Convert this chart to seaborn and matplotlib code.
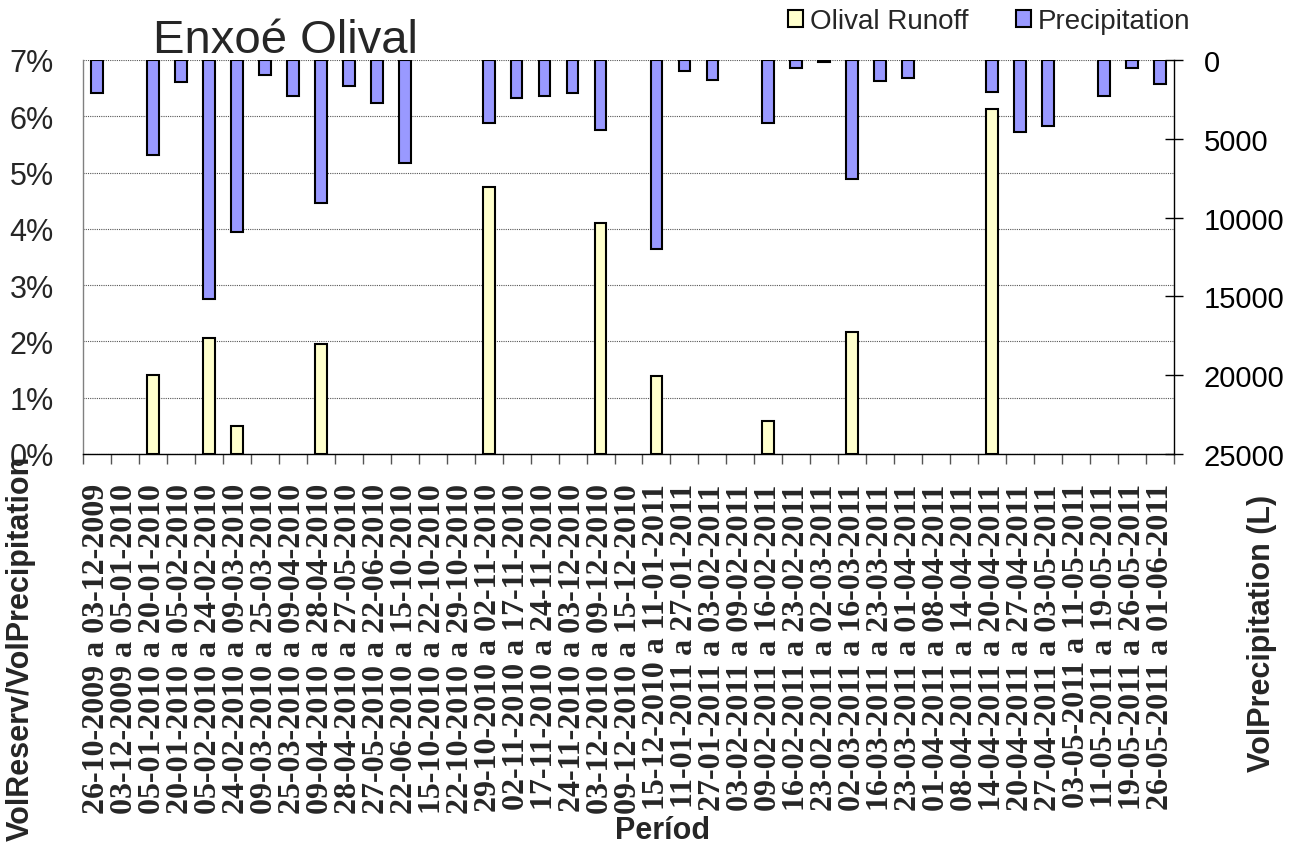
import matplotlib
matplotlib.use("Agg")
import numpy as np
import pandas as pd
import matplotlib.pyplot as plt
import seaborn as sns
from matplotlib.ticker import PercentFormatter, FixedLocator
from matplotlib.patches import Patch

nan = np.nan

periods = [
    "26-10-2009 a 03-12-2009", "03-12-2009 a 05-01-2010", "05-01-2010 a 20-01-2010",
    "20-01-2010 a 05-02-2010", "05-02-2010 a 24-02-2010", "24-02-2010 a 09-03-2010",
    "09-03-2010 a 25-03-2010", "25-03-2010 a 09-04-2010", "09-04-2010 a 28-04-2010",
    "28-04-2010 a 27-05-2010", "27-05-2010 a 22-06-2010", "22-06-2010 a 15-10-2010",
    "15-10-2010 a 22-10-2010", "22-10-2010 a 29-10-2010", "29-10-2010 a 02-11-2010",
    "02-11-2010 a 17-11-2010", "17-11-2010 a 24-11-2010", "24-11-2010 a 03-12-2010",
    "03-12-2010 a 09-12-2010", "09-12-2010 a 15-12-2010", "15-12-2010 a 11-01-2011",
    "11-01-2011 a 27-01-2011", "27-01-2011 a 03-02-2011", "03-02-2011 a 09-02-2011",
    "09-02-2011 a 16-02-2011", "16-02-2011 a 23-02-2011", "23-02-2011 a 02-03-2011",
    "02-03-2011 a 16-03-2011", "16-03-2011 a 23-03-2011", "23-03-2011 a 01-04-2011",
    "01-04-2011 a 08-04-2011", "08-04-2011 a 14-04-2011", "14-04-2011 a 20-04-2011",
    "20-04-2011 a 27-04-2011", "27-04-2011 a 03-05-2011", "03-05-2011 a 11-05-2011",
    "11-05-2011 a 19-05-2011", "19-05-2011 a 26-05-2011", "26-05-2011 a 01-06-2011",
]

# Olival Runoff (VolReserv/VolPrecipitation, fraction)
runoff = [nan, nan, 0.0141, nan, 0.0206, 0.0050, nan, nan, 0.0195, nan,
          nan, nan, nan, nan, 0.0475, nan, nan, nan, 0.0410, nan,
          0.0139, nan, nan, nan, 0.0058, nan, nan, 0.0217, nan, nan,
          nan, nan, 0.0613, nan, nan, nan, nan, nan, nan]

# Precipitation volume (L)
precip = [2100, nan, 6000, 1400, 15150, 10900, 970, 2300, 9100, 1650,
          2700, 6550, nan, nan, 4000, 2430, 2300, 2100, 4450, nan,
          12000, 680, 1250, nan, 4000, 500, 100, 7550, 1330, 1150,
          nan, nan, 2000, 4550, 4170, nan, 2260, 500, 1520]

left_ticks = [0.00, 0.01, 0.02, 0.03, 0.04, 0.05, 0.06, 0.07]
right_ticks = [0, 5000, 10000, 15000, 20000, 25000]

runoff_color = "#FFFFCC"
precip_color = "#9999FF"

sns.set_style("white")
plt.rcParams["font.family"] = ["Liberation Sans", "DejaVu Sans"]

W, H = 1304, 845
fig = plt.figure(figsize=(W / 100, H / 100), dpi=100)
L, R, T, B = 83, 1174, 61, 455
ax = fig.add_axes([L / W, 1 - B / H, (R - L) / W, (B - T) / H])

df_r = pd.DataFrame({"Period": periods, "Runoff": runoff})
df_p = pd.DataFrame({"Period": periods, "Precipitation": precip})

sns.barplot(data=df_r, x="Period", y="Runoff", order=periods, color=runoff_color,
            saturation=1, edgecolor="black", linewidth=1.5, width=0.42,
            errorbar=None, ax=ax)

ax2 = ax.twinx()
sns.barplot(data=df_p, x="Period", y="Precipitation", order=periods, color=precip_color,
            saturation=1, edgecolor="black", linewidth=1.5, width=0.42,
            errorbar=None, ax=ax2)

ax.set_xlim(-0.5, len(periods) - 0.5)
ax.set_ylim(0, 0.07)
ax2.set_ylim(25000, 0)

# left axis
ax.set_yticks(left_ticks)
ax.yaxis.set_major_formatter(PercentFormatter(1.0, decimals=0))
ax.tick_params(axis="y", length=0, pad=21, labelsize=22)
ax.yaxis.grid(True, linestyle=(0, (1, 1)), color="#555555", linewidth=0.8)
ax.xaxis.grid(False)
ax.set_axisbelow(True)

# x axis
ax.set_xticks(range(len(periods)))
ax.set_xticklabels(periods, rotation=90, fontfamily="Liberation Serif",
                   fontweight="bold", fontsize=23)
ax.tick_params(axis="x", which="major", length=0, pad=21)
ax.xaxis.set_minor_locator(FixedLocator(np.arange(-0.5, len(periods), 1.0)))
ax.tick_params(axis="x", which="minor", length=7, width=1, color="#555555",
               direction="out", bottom=True)

# right axis
ax2.set_yticks(right_ticks)
ax2.tick_params(axis="y", direction="inout", length=13, width=1, pad=15,
                labelsize=21, colors="black")

# spines
for s in ["top", "right"]:
    ax.spines[s].set_visible(False)
ax.spines["left"].set_color("#808080")
ax.spines["left"].set_linewidth(1)
ax.spines["bottom"].set_color("black")
ax.spines["bottom"].set_linewidth(1)
for s in ["top", "left", "bottom"]:
    ax2.spines[s].set_visible(False)
ax2.spines["right"].set_color("black")
ax2.spines["right"].set_linewidth(1)

# labels
ax.set_ylabel("VolReserv/VolPrecipitation", fontsize=22, fontweight="bold")
ax.yaxis.set_label_coords((21 - L) / (R - L), (B - 648) / (B - T))
ax.yaxis.label.set_va("center")

ax2.set_ylabel("VolPrecipitation (L)", fontsize=22, fontweight="bold", rotation=90)
ax2.yaxis.set_label_coords((1262 - L) / (R - L), (B - 633) / (B - T))
ax2.yaxis.label.set_va("center")

ax.set_xlabel("Períod", fontsize=22, fontweight="bold")
ax.xaxis.set_label_coords((663 - L) / (R - L), (B - 831) / (B - T))
ax.xaxis.label.set_va("center")

ax.set_title("Enxoé Olival", fontsize=34, x=(285 - L) / (R - L), y=(B - 53) / (B - T), pad=0)

handles = [Patch(facecolor=runoff_color, edgecolor="black", linewidth=1.5, label="Olival Runoff"),
           Patch(facecolor=precip_color, edgecolor="black", linewidth=1.5, label="Precipitation")]
fig.legend(handles=handles, loc="upper left", bbox_to_anchor=(788 / W, 1 - 9 / H), ncol=2,
           frameon=False, fontsize=20, handlelength=0.55, handleheight=0.55,
           handletextpad=0.25, columnspacing=1.7, borderpad=0, borderaxespad=0)

fig.savefig("out.png", dpi=100)
